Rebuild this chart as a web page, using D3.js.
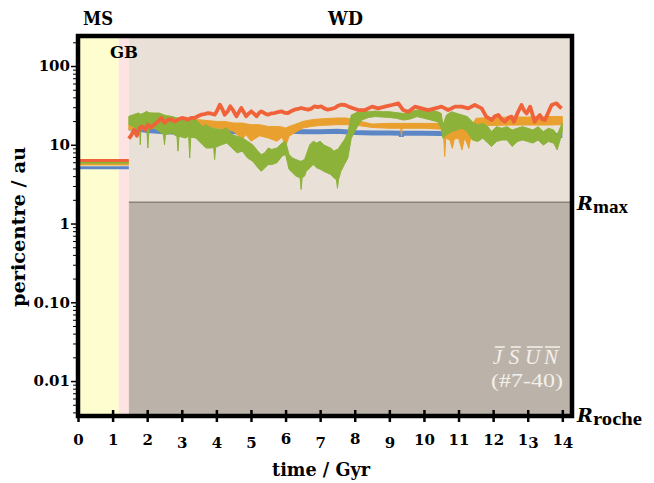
<!DOCTYPE html>
<html>
<head>
<meta charset="utf-8">
<script src="https://cdn.jsdelivr.net/npm/d3@7"></script>
<style>
  body { margin: 0; background: #fff; }
  text { font-family: "DejaVu Serif", serif; }
</style>
</head>
<body>
<div id="plotarea"></div>
<script>
// evolution phases of the host star (Gyr)
var phaseNames = ["MS", "GB", "WD"];
var phaseStart = [0, 1.18, 1.47];
var phaseEnd = [1.18, 1.47, 14.28];

// pericentre limits (au)
var rMax = 1.87, rRoche = 0.0036, periTop = 240.5;

var xTicks = [0, 1, 2, 3, 4, 5, 6, 7, 8, 9, 10, 11, 12, 13, 14];
var yTicks = [100, 10, 1, 0.1, 0.01];
var yTickLabels = ["100", "10", "1", "0.10", "0.01"];

// main sequence + giant branch: the four planets sit flat
var msPlanets = ["blue", "orange", "green", "red"];
var msPeri = [5.1, 5.7, 6.0, 6.3];

// white dwarf phase
var tBlue = [1.47,1.7,2.0,2.5,3.0,3.5,4.0,4.5,5.0,5.5, 6.0,6.5,7.0,7.5,8.0,8.5,9.0,9.33,9.35,9.37,
             9.5,10.0,10.5,11.0,11.5,12.0,12.5,13.0,13.5,14.0];
var blue = [16.5,16.0,15.2,14.6,14.4,14.3,14.3,14.6,14.8,14.9, 15.0,14.6,14.6,14.8,14.3,14.1,14.1,14.0,12.8,14.0,
            14.0,14.0,13.9,13.7,13.4,13.3,13.3,13.2,13.2,13.1];

var tOrange = [1.47,2.0,2.5,3.0,3.5,4.0,4.25,4.5,4.75,4.85, 5.0,5.25,5.5,5.75,5.9,6.0,6.1,6.25,6.5,6.75,
               7.0,7.5,7.75,8.0,8.5,9.0,9.33,9.35,9.37,9.5, 10.0,10.5,10.57,10.6,10.63,10.75,10.82,10.88,11.0,11.1,
               11.18,11.3,11.36,11.45,11.5,12.0,12.5,13.0,13.5,14.0];
var orangeLo = [15.5,16.3,16.6,17.1,17.1,16.3,15.8,14.8,11.6,13.5, 11.1,13.0,12.2,11.1,12.5,9.5,12.8,14.1,16.3,17.1,
                17.6,18.0,18.0,17.8,16.6,16.2,16.2,12.7,16.2,16.2, 16.2,15.8,13.0,7.1,12.1,11.5,9.0,11.8,12.1,8.6,
                12.4,9.0,13.0,16.0,17.6,17.6,17.8,17.8,17.8,18.0];
var orangeHi = [18.0,18.9,19.8,20.8,20.8,19.8,19.8,18.9,18.9,18.5, 18.0,18.0,17.1,17.1,16.8,16.3,17.1,18.0,19.8,20.8,
                21.3,21.9,21.9,20.6,18.3,18.7,18.7,18.7,18.7,18.7, 18.7,18.7,17.8,17.0,16.5,17.0,16.5,16.5,17.0,16.6,
                17.0,16.6,17.8,19.6,21.7,22.2,22.5,22.5,22.8,22.8];

var tGreen = [1.47,1.6,1.74,1.78,1.8,1.82,1.9,1.99,2.02,2.05, 2.2,2.35,2.47,2.5,2.53,2.7,2.86,2.89,2.92,3.1,
              3.2,3.23,3.26,3.4,3.5,3.6,3.7,3.85,3.92,3.95, 3.98,4.15,4.3,4.45,4.6,4.75,4.9,5.05,5.2,5.3,
              5.4,5.5,5.6,5.75,5.9,6.0,6.1,6.2,6.3,6.42, 6.45,6.48,6.55,6.6,6.7,6.8,6.9,7.0,7.1,7.2,
              7.3,7.4,7.47,7.5,7.53,7.6,7.7,7.8,7.9,8.0, 8.1,8.2,8.4,8.6,8.8,9.0,9.2,9.4,9.6,9.8,
              10.0,10.2,10.4,10.5,10.55,10.65,10.8,10.95,11.1,11.25, 11.4,11.55,11.7,11.85,11.95,12.1,12.25,12.4,12.55,12.7,
              12.85,13.0,13.15,13.3,13.45,13.6,13.75,13.85,13.95,14.0];
var greenLo = [18.0,17.1,15.5,15.5,10.0,15.5,16.3,15.5,9.1,15.5, 16.3,14.8,13.4,10.0,13.4,14.1,12.8,8.3,12.8,12.2,
               12.8,6.8,12.5,12.2,11.1,10.0,9.1,9.1,9.3,6.5, 9.3,10.0,10.5,9.1,7.9,8.3,6.8,6.2,5.1,4.6,
               5.1,5.6,5.6,5.9,7.2,7.5,4.9,4.4,4.0,3.8, 2.7,3.8,4.0,4.6,5.1,5.6,5.1,4.9,4.6,4.4,
               4.2,3.8,3.6,2.8,3.6,4.6,5.6,6.8,12.1,14.7, 17.8,20.6,22.2,22.8,22.5,22.2,21.7,20.6,21.2,22.8,
               21.7,20.6,19.6,16.2,12.1,13.3,14.7,15.4,16.2,14.7, 11.5,11.0,12.1,10.5,9.5,11.0,11.5,11.5,9.5,11.0,
               11.5,11.0,10.5,11.5,9.9,11.0,10.5,8.6,12.1,14.7];
var greenHi = [23.0,24.1,25.3,25.0,24.5,24.5,25.3,26.6,26.0,25.5, 25.3,25.3,24.1,24.1,23.5,23.0,21.9,21.9,21.9,20.8,
               21.9,21.9,21.5,20.8,18.9,17.1,18.0,16.3,16.3,16.0, 16.0,15.5,16.3,13.4,12.8,12.2,11.1,10.0,8.3,7.5,
               7.9,9.1,8.7,9.1,10.5,11.1,7.5,6.8,6.5,6.2, 6.2,6.3,6.5,7.5,10.0,11.1,10.5,11.1,10.0,9.5,
               9.1,8.3,8.7,8.7,9.0,10.0,11.6,14.1,23.9,25.0, 26.3,26.3,26.3,26.8,26.3,26.3,25.6,25.0,26.3,27.6,
               27.6,27.6,26.3,25.0,17.8,23.9,26.3,25.0,23.9,22.8, 19.6,17.8,18.7,17.0,14.7,17.0,16.2,17.0,15.4,16.2,
               17.0,16.2,15.4,17.0,14.7,16.2,15.4,13.3,17.0,18.7];

var tRed = [1.47,1.55,1.62,1.7,1.78,1.85,1.95,2.02,2.1,2.2, 2.3,2.41,2.5,2.6,2.7,2.8,2.9,3.0,3.1,3.18,
            3.27,3.37,3.46,3.56,3.66,3.76,3.86,3.95,4.02,4.1, 4.17,4.24,4.33,4.4,4.47,4.58,4.65,4.72,4.79,4.86,
            4.94,5.01,5.1,5.16,5.23,5.3,5.4,5.49,5.58,5.68, 5.78,5.88,5.97,6.07,6.17,6.26,6.36,6.45,6.55,6.65,
            6.75,6.84,6.94,7.03,7.12,7.22,7.32,7.42,7.5,7.6, 7.72,7.82,7.91,8.1,8.3,8.5,8.68,8.87,9.07,9.26,
            9.4,9.55,9.74,9.93,10.12,10.32,10.51,10.7,10.9,11.09, 11.28,11.47,11.67,11.8,11.96,12.05,12.15,12.25,12.34,12.44,
            12.53,12.6,12.7,12.82,12.9,12.97,13.07,13.13,13.2,13.28, 13.35,13.42,13.5,13.6,13.69,13.83,13.92,13.98];
var red = [12.0,13.4,15.5,13.0,16.3,17.1,15.5,18.0,16.5,18.0, 19.5,21.9,19.0,20.8,21.0,19.8,21.0,21.9,21.5,20.8,
           22.0,21.9,23.0,24.1,24.5,25.3,24.8,24.1,27.0,32.3, 28.5,24.1,26.6,30.8,28.0,23.0,26.0,29.3,26.0,23.0,
           25.0,26.6,24.5,23.0,25.3,26.6,25.0,24.1,25.0,25.3, 26.0,26.6,25.5,25.3,26.8,27.9,28.5,29.3,28.5,27.9,
           28.8,30.8,30.0,30.8,29.0,27.9,28.5,29.3,31.0,32.3, 32.0,30.5,29.5,27.6,27.6,30.5,29.0,30.5,32.0,33.6,
           27.6,26.3,30.5,29.0,27.6,29.0,30.5,27.6,30.5,30.5, 29.0,32.0,29.0,22.8,20.6,23.0,23.9,21.0,19.6,22.0,
           22.8,19.6,25.0,32.0,27.0,25.0,30.5,25.0,19.6,22.0, 23.9,21.0,20.6,26.0,32.0,33.6,30.5,29.0];

var colors = {blue: "#5d86c6", orange: "#e9a02f", green: "#8cb23a", red: "#f0623a"};

// set the dimensions and margins of the graph
var margin = {top: 36, right: 82, bottom: 67, left: 78},
    width = 654 - margin.left - margin.right,
    height = 483 - margin.top - margin.bottom;

var root = d3.select("#plotarea")
  .append("svg")
    .attr("width", 654)
    .attr("height", 483);

var svg = root.append("g")
    .attr("transform", "translate(" + margin.left + "," + margin.top + ")");

var x = d3.scaleLinear()
  .domain([0, phaseEnd[2]])
  .range([0, width]);

var y = d3.scaleLog()
  .domain([rRoche, periTop])
  .range([height, 0]);

svg.append("clipPath").attr("id", "clip")
  .append("rect")
    .attr("x", 2).attr("y", 2)
    .attr("width", width - 4).attr("height", height - 4);

var plot = svg.append("g").attr("clip-path", "url(#clip)");

// phase backgrounds
plot.append("rect")
  .attr("x", x(phaseStart[0])).attr("y", 0)
  .attr("width", x(phaseEnd[0]) - x(phaseStart[0])).attr("height", height)
  .style("fill", "#fdfdcf");
plot.append("rect")
  .attr("x", x(phaseStart[1])).attr("y", 0)
  .attr("width", x(phaseEnd[1]) - x(phaseStart[1])).attr("height", height)
  .style("fill", "#fde3e2");
plot.append("rect")
  .attr("x", x(phaseStart[2])).attr("y", 0)
  .attr("width", x(phaseEnd[2]) - x(phaseStart[2])).attr("height", y(rMax))
  .style("fill", "#e9e1d8");
plot.append("rect")
  .attr("x", x(phaseStart[2])).attr("y", y(rMax))
  .attr("width", x(phaseEnd[2]) - x(phaseStart[2])).attr("height", height - y(rMax))
  .style("fill", "#bbb3aa");
plot.append("line")
  .attr("x1", x(phaseStart[2])).attr("x2", width)
  .attr("y1", y(rMax)).attr("y2", y(rMax))
  .style("stroke", "#6a6058").style("stroke-width", 1);

// MS + GB flat lines
msPlanets.forEach(function(p, i) {
  plot.append("line")
    .attr("x1", x(0)).attr("x2", x(phaseStart[2]))
    .attr("y1", y(msPeri[i])).attr("y2", y(msPeri[i]))
    .style("stroke", colors[p]).style("stroke-width", 3);
});

function pts(ts, vs) {
  return ts.map(function(t, i) { return {t: t, v: vs[i]}; });
}
function band(ts, lo, hi) {
  return ts.map(function(t, i) { return {t: t, lo: lo[i], hi: hi[i]}; });
}

var line = d3.line()
  .x(function(d) { return x(d.t); })
  .y(function(d) { return y(d.v); });
var area = d3.area()
  .x(function(d) { return x(d.t); })
  .y0(function(d) { return y(d.lo); })
  .y1(function(d) { return y(d.hi); });

plot.append("path")
  .datum(pts(tBlue, blue))
  .attr("d", line)
  .style("fill", "none").style("stroke", colors.blue).style("stroke-width", 5);

plot.append("path")
  .datum(band(tOrange, orangeLo, orangeHi))
  .attr("d", area)
  .style("fill", colors.orange).style("stroke", colors.orange).style("stroke-width", 1);

plot.append("path")
  .datum(band(tGreen, greenLo, greenHi))
  .attr("d", area)
  .style("fill", colors.green).style("stroke", colors.green).style("stroke-width", 1);

plot.append("path")
  .datum(pts(tRed, red))
  .attr("d", line)
  .style("fill", "none").style("stroke", colors.red).style("stroke-width", 3.8)
  .style("stroke-linejoin", "round");

// simulation tag
var tag = svg.append("g").style("fill", "#f4f0ea");
var letters = ["J", "S", "U", "N"], letterX = [419.5, 436, 454.5, 473];
letters.forEach(function(c, i) {
  var t = tag.append("text")
    .attr("x", letterX[i]).attr("y", 328)
    .attr("text-anchor", "middle")
    .style("font-family", "'Liberation Serif', serif")
    .style("font-style", "italic")
    .style("font-size", "21px")
    .text(c);
  var bb = t.node().getBBox();
  tag.append("line")
    .attr("x1", bb.x + 2).attr("x2", bb.x + bb.width + 1)
    .attr("y1", 311).attr("y2", 311)
    .style("stroke", "#f4f0ea").style("stroke-width", 1.5);
});
tag.append("text")
  .attr("x", 449).attr("y", 351)
  .attr("text-anchor", "middle")
  .attr("textLength", 72)
  .attr("lengthAdjust", "spacingAndGlyphs")
  .style("font-family", "'Liberation Serif', serif")
  .style("font-size", "19px")
  .text("(#7-40)");

// frame
svg.append("rect")
  .attr("width", width).attr("height", height)
  .style("fill", "none").style("stroke", "#000").style("stroke-width", 4.5);

// x axis: ticks cross the bottom border
var xAxis = svg.append("g")
  .attr("transform", "translate(0," + (height - 6) + ")")
  .call(d3.axisBottom(x).tickValues(xTicks).tickSize(12).tickSizeOuter(0));
xAxis.select(".domain").remove();
xAxis.selectAll(".tick line").style("stroke", "#000").style("stroke-width", 2.5);
xAxis.selectAll(".tick text")
  .attr("y", 35).attr("dy", null)
  .style("font-family", "'DejaVu Serif', serif")
  .style("font-weight", "bold").style("font-size", "15px").style("fill", "#000")
  .each(function(d) {
    // old-style figures: 3 4 5 7 9 hang below the line
    var t = d3.select(this), prev = 0;
    t.text(null);
    String(d).split("").forEach(function(c) {
      var sh = "34579".indexOf(c) >= 0 ? 3 : ("68".indexOf(c) >= 0 ? -1 : 0);
      t.append("tspan").attr("dy", sh - prev).text(c);
      prev = sh;
    });
  });

// y axis
var minor = [];
[-3, -2, -1, 0, 1, 2].forEach(function(k) {
  for (var m = 2; m <= 9; m++) {
    var v = m * Math.pow(10, k);
    if (v > rRoche && v < periTop) minor.push(v);
  }
});
var yMinor = svg.append("g")
  .attr("transform", "translate(-2,0)")
  .call(d3.axisLeft(y).tickValues(minor).tickSize(3).tickFormat(""));
yMinor.select(".domain").remove();
yMinor.selectAll(".tick line").style("stroke-width", 1);

var yAxis = svg.append("g")
  .attr("transform", "translate(-2,0)")
  .call(d3.axisLeft(y).tickValues(yTicks).tickSize(5)
    .tickFormat(function(d, i) { return yTickLabels[i]; }));
yAxis.select(".domain").remove();
yAxis.selectAll(".tick line").style("stroke-width", 1.5);
yAxis.selectAll(".tick text")
  .attr("x", -6)
  .style("font-family", "'DejaVu Serif', serif")
  .style("font-weight", "bold").style("font-size", "15px").style("fill", "#000");

// phase labels
function label(txt, px, py, size, len) {
  var t = root.append("text")
    .attr("x", px).attr("y", py)
    .attr("text-anchor", "middle")
    .style("font-weight", "bold")
    .style("font-size", size + "px")
    .text(txt);
  if (len) t.attr("textLength", len).attr("lengthAdjust", "spacingAndGlyphs");
  return t;
}
label(phaseNames[0], 98, 25, 19, 30);
label(phaseNames[2], 345.5, 25, 19, 35);
label(phaseNames[1], 124, 58, 17, 28);

// R labels on the right
function rLabel(sub, py, subLen) {
  root.append("text")
    .attr("x", 577).attr("y", py)
    .style("font-weight", "bold").style("font-style", "italic")
    .style("font-size", "19px")
    .text("R");
  root.append("text")
    .attr("x", 593).attr("y", py + 3)
    .attr("textLength", subLen)
    .attr("lengthAdjust", "spacingAndGlyphs")
    .style("font-family", "'Liberation Serif', serif")
    .style("font-weight", "bold")
    .style("font-size", "19px")
    .text(sub);
}
rLabel("max", y(rMax) + margin.top + 8, 35);
rLabel("roche", height + margin.top + 6, 49);

// axis titles
label("time / Gyr", 321, 476, 18, 98);
root.append("text")
  .attr("transform", "translate(25,227) rotate(-90)")
  .attr("text-anchor", "middle")
  .attr("textLength", 160)
  .attr("lengthAdjust", "spacingAndGlyphs")
  .style("font-weight", "bold")
  .style("font-size", "18px")
  .text("pericentre / au");
</script>
</body>
</html>
